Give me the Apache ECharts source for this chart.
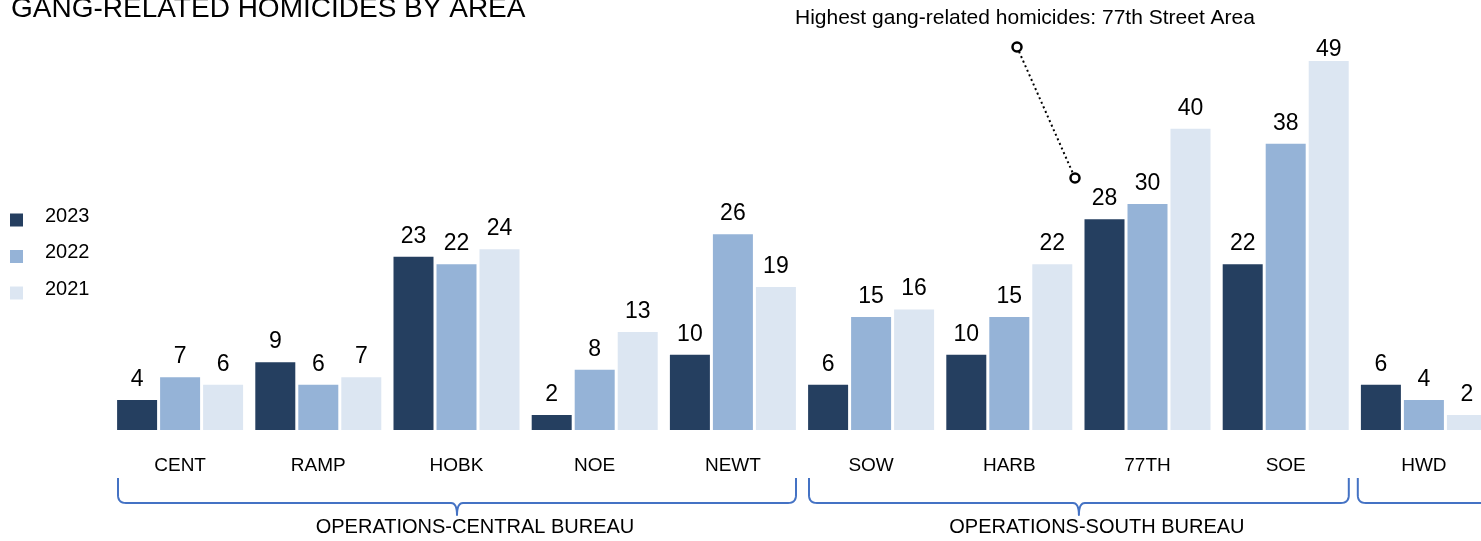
<!DOCTYPE html>
<html>
<head>
<meta charset="utf-8">
<script src="https://cdn.jsdelivr.net/npm/echarts@6/dist/echarts.min.js"></script>
<style>
html,body{margin:0;padding:0;background:#fff;}
#c{width:1481px;height:541px;}
</style>
</head>
<body>
<div id="c"></div>
<script>
const categories = ['CENT','RAMP','HOBK','NOE','NEWT','SOW','HARB','77TH','SOE','HWD'];
const seriesNames = ['2023','2022','2021'];
const v2023 = [4, 9, 23, 2, 10, 6, 10, 28, 22, 6];
const v2022 = [7, 6, 22, 8, 26, 15, 15, 30, 38, 4];
const v2021 = [6, 7, 24, 13, 19, 16, 22, 40, 49, 2];
const bureauNames = ['OPERATIONS-CENTRAL BUREAU', 'OPERATIONS-SOUTH BUREAU', ''];
const bureauFrom = [0, 5, 9];
const bureauTo = [4, 8, 9];
const bureauOpen = [false, false, true];
const titleText = 'GANG-RELATED HOMICIDES BY AREA';
const noteText = 'Highest gang-related homicides: 77th Street Area';

const colors = ['#253F60', '#95B3D7', '#DCE6F2'];
const FONT = '"Liberation Sans", Arial, sans-serif';

const chart = echarts.init(document.getElementById('c'), null, {renderer: 'canvas'});

function mkSeries(name, vals, color) {
  const maxV = Math.max(...v2021, ...v2022, ...v2023);
  return {
    name: name,
    type: 'bar',
    barWidth: 40,
    barGap: '7.5%',
    itemStyle: {color: color},
    label: {show: true, position: 'top', distance: 9, fontSize: 23, color: '#000', fontFamily: FONT},
    data: vals.map(v => v === maxV ? {value: v, label: {distance: 0}} : v),
    emphasis: {disabled: true}
  };
}

chart.setOption({
  animation: false,
  textStyle: {fontFamily: FONT},
  title: {
    text: titleText, left: 11, top: -5, padding: 0,
    textStyle: {fontSize: 28, fontWeight: 'normal', color: '#000', fontFamily: FONT}
  },
  legend: {
    orient: 'vertical', left: 5, top: 201,
    icon: 'rect', itemWidth: 13, itemHeight: 13, itemGap: 16,
    data: seriesNames,
    formatter: '{a|{name}}',
    textStyle: {
      fontSize: 20, color: '#000', fontFamily: FONT,
      rich: {a: {fontSize: 20, color: '#000', fontFamily: FONT, padding: [0, 0, 8, 17]}}
    }
  },
  grid: {left: 111, width: 1382, top: 53.5, bottom: 111, containLabel: false, outerBoundsMode: 'none'},
  xAxis: {
    type: 'category', data: categories,
    axisLine: {show: false}, axisTick: {show: false},
    axisLabel: {fontSize: 19, color: '#000', margin: 26, fontFamily: FONT, interval: 0}
  },
  yAxis: {type: 'value', min: 0, max: 50, interval: 10, show: false, splitLine: {show: false}},
  series: [
    mkSeries(seriesNames[0], v2023, colors[0]),
    mkSeries(seriesNames[1], v2022, colors[1]),
    mkSeries(seriesNames[2], v2021, colors[2])
  ]
});

// helpers for bracket curves (quadratic bezier sampled into polyline points)
function quad(pts, p0, p1, p2, n) {
  for (let i = 1; i <= n; i++) {
    const t = i / n, u = 1 - t;
    pts.push([u * u * p0[0] + 2 * u * t * p1[0] + t * t * p2[0], u * u * p0[1] + 2 * u * t * p1[1] + t * t * p2[1]]);
  }
}

const cx = i => chart.convertToPixel({xAxisIndex: 0}, i);
const band = cx(1) - cx(0);
const base = chart.convertToPixel({yAxisIndex: 0}, 0);
const yTop = base + 48, yLine = base + 73, yTip = base + 85, r = 8;
const blue = '#4472C4';
const graphics = [];
for (let b = 0; b < bureauNames.length; b++) {
  const x0 = cx(bureauFrom[b]) - band / 2 + (bureauOpen[b] ? 3 : 7);
  const pts = [[x0, yTop], [x0, yLine - r]];
  quad(pts, [x0, yLine - r], [x0, yLine], [x0 + r, yLine], 8);
  if (bureauOpen[b]) {
    pts.push([1500, yLine]);
  } else {
    const x1 = cx(bureauTo[b]) + band / 2 - 6;
    const c = (x0 + x1) / 2;
    pts.push([c - 6, yLine]);
    quad(pts, [c - 6, yLine], [c, yLine], [c, yTip], 8);
    quad(pts, [c, yTip], [c, yLine], [c + 6, yLine], 8);
    pts.push([x1 - r, yLine]);
    quad(pts, [x1 - r, yLine], [x1, yLine], [x1, yLine - r], 8);
    pts.push([x1, yTop]);
    graphics.push({
      type: 'text', x: c + 18, y: base + 97,
      style: {text: bureauNames[b], font: '20px ' + FONT, fill: '#000', textAlign: 'center', textVerticalAlign: 'middle'},
      silent: true
    });
  }
  graphics.push({type: 'polyline', shape: {points: pts}, style: {stroke: blue, lineWidth: 2, fill: null, lineJoin: 'round'}, silent: true});
}
graphics.push({
  type: 'text', x: 795, y: 18,
  style: {text: noteText, font: '21px ' + FONT, fill: '#000', textAlign: 'left', textVerticalAlign: 'middle'},
  silent: true
});
graphics.push({type: 'line', shape: {x1: 1017, y1: 47, x2: 1075, y2: 178}, style: {stroke: '#000', lineWidth: 2, lineDash: [2, 3]}, silent: true});
graphics.push({type: 'circle', shape: {cx: 1017, cy: 47, r: 4.5}, style: {stroke: '#000', lineWidth: 2.5, fill: '#fff'}, silent: true, z: 10});
graphics.push({type: 'circle', shape: {cx: 1075, cy: 178, r: 4.5}, style: {stroke: '#000', lineWidth: 2.5, fill: '#fff'}, silent: true, z: 10});
chart.setOption({graphic: graphics});
</script>
</body>
</html>
